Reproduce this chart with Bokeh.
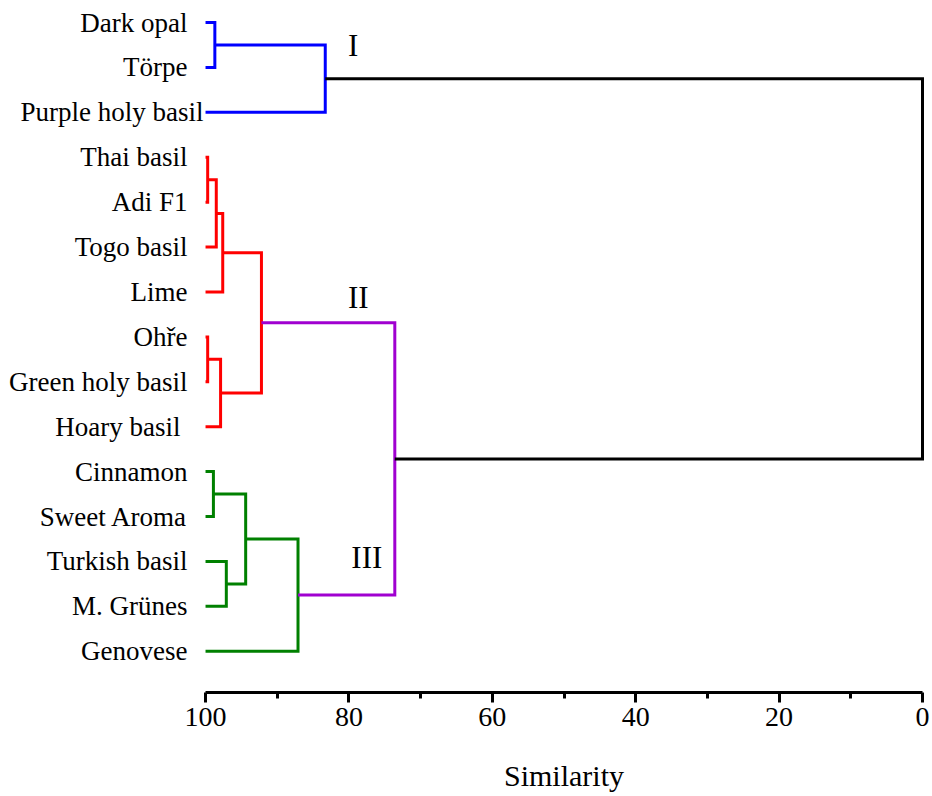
from bokeh.plotting import figure
from bokeh.models import Range1d, FixedTicker
from bokeh.core.properties import value
from bokeh.embed import file_html
from bokeh.resources import INLINE

# ---- data ----
leaves = ["Dark opal", "Törpe", "Purple holy basil", "Thai basil", "Adi F1",
          "Togo basil", "Lime", "Ohře", "Green holy basil", "Hoary basil",
          "Cinnamon", "Sweet Aroma", "Turkish basil", "M. Grünes", "Genovese"]
# merges: node ids 0..14 are leaves, merges get ids 15..
merge_left = [0, 15, 3, 17, 18, 7, 20, 19, 10, 12, 23, 25, 22, 16]
merge_right = [1, 2, 4, 5, 6, 8, 9, 21, 11, 13, 24, 14, 26, 27]
merge_sim = [98.7, 83.3, 99.7, 98.5, 97.6, 99.7, 97.9, 92.2, 98.9, 97.1, 94.4, 87.1, 73.6, 0.0]
merge_group = ["I", "I", "II", "II", "II", "II", "II", "II", "III", "III", "III", "III", "II-III", "all"]
cluster_names = ["I", "II", "III"]
cluster_x = [79.4, 78.7, 77.5]
cluster_y = [0.51, 6.12, 11.92]
x_ticks = [0, 20, 40, 60, 80, 100]
x_minor_ticks = [10, 30, 50, 70, 90]
x_title = "Similarity"
x_title_pos = (50, 16.77)
axis_y = 14.92

# ---- styles ----
group_colors = {"I": "#0000FF", "II": "#FF0000", "III": "#008000",
                "II-III": "#A000D0", "all": "#000000"}
label_offsets = [-18, -18, -2, -18, -18, -18, -18, -18, -18, -25, -18, -18, -18, -18, -18]
FONT = "Liberation Serif"

n = len(leaves)
node_x = {i: 100.0 for i in range(n)}
node_y = {i: float(i) for i in range(n)}
xs, ys, cols = [], [], []
for k, (a, b, s, g) in enumerate(zip(merge_left, merge_right, merge_sim, merge_group)):
    xs.append([node_x[a], s, s, node_x[b]])
    ys.append([node_y[a], node_y[a], node_y[b], node_y[b]])
    cols.append(group_colors[g])
    node_x[n + k] = s
    node_y[n + k] = (node_y[a] + node_y[b]) / 2.0

p = figure(width=930, height=794, output_backend="svg", toolbar_location=None,
           x_range=Range1d(127.48, -1.116), y_range=Range1d(17.19, -0.312),
           min_border_left=8, min_border_right=0, min_border_top=8,
           min_border_bottom=0)
p.outline_line_color = None
p.grid.visible = False
p.yaxis.visible = False
p.background_fill_color = "white"
p.border_fill_color = "white"

p.multi_line(xs=xs, ys=ys, line_color=cols, line_width=3,
             line_cap="butt", line_join="miter")

p.text(x=[100.0] * n, y=list(range(n)), text=leaves, x_offset=label_offsets,
       text_align="right", text_baseline="middle",
       text_font=value(FONT), text_font_size="27px", text_color="black")

p.text(x=cluster_x, y=cluster_y, text=cluster_names,
       text_align="center", text_baseline="middle",
       text_font=value(FONT), text_font_size="31px", text_color="black")

p.text(x=[x_title_pos[0]], y=[x_title_pos[1]], text=[x_title],
       text_align="center", text_baseline="middle",
       text_font=value(FONT), text_font_size="30px", text_color="black")

ax = p.xaxis[0]
ax.fixed_location = axis_y
ax.bounds = (0, 100)
ax.ticker = FixedTicker(ticks=x_ticks, minor_ticks=x_minor_ticks)
ax.axis_line_width = 3
ax.major_tick_line_width = 3
ax.minor_tick_line_width = 3
ax.major_tick_out = 10
ax.major_tick_in = 0
ax.minor_tick_out = 6
ax.minor_tick_in = 0
ax.major_label_text_font = FONT
ax.major_label_text_font_size = "28px"
ax.major_label_text_color = "black"
ax.major_label_standoff = 5

open("out.html", "w").write(file_html(p, INLINE))
